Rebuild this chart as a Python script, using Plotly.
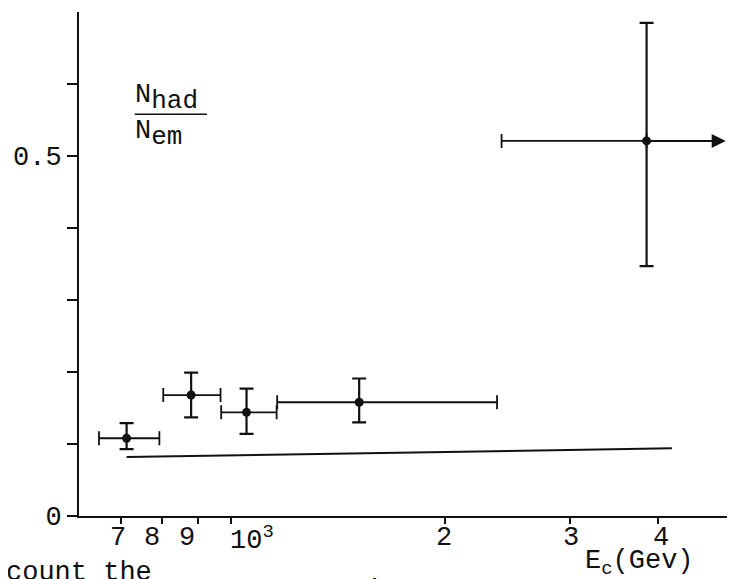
import math
import plotly.graph_objects as go

# ---- data (x in GeV, log axis) ----
energy = [713, 879, 1052, 1516, 3851]
energy_lo = [652, 803, 969, 1162, 2406]
energy_hi = [793, 967, 1160, 2371, 3851]   # last point: lower limit -> arrow
ratio = [0.108, 0.168, 0.144, 0.158, 0.521]
ratio_hi = [0.129, 0.199, 0.177, 0.191, 0.685]
ratio_lo = [0.093, 0.137, 0.114, 0.130, 0.347]
arrow_end = 4977

line_x = [713, 2243, 4180]
line_y = [0.082, 0.090, 0.094]

xtick_vals = [700, 800, 900, 1000, 2000, 3000, 4000]
xtick_text = ["7", "8", "9", "10<sup>3</sup>", "2", "3", "4"]
ytick_vals = [0, 0.1, 0.2, 0.3, 0.4, 0.5, 0.6]
ytick_text = ["0", "", "", "", "", "0.5", ""]

# hand-set label nudges (pixels), as in the typed original
xlabel_shift = [-3, -10, -11, 21, -1, 1, 3]

FONT = "Liberation Mono"
INK = "#111111"

err_plus_x = [h - c for h, c in zip(energy_hi, energy)]
err_minus_x = [c - l for c, l in zip(energy, energy_lo)]
err_plus_y = [h - c for h, c in zip(ratio_hi, ratio)]
err_minus_y = [c - l for c, l in zip(ratio, ratio_lo)]

fig = go.Figure()

fig.add_trace(go.Scatter(
    x=line_x, y=line_y, mode="lines",
    line=dict(color=INK, width=2), hoverinfo="skip", showlegend=False))

fig.add_trace(go.Scatter(
    x=energy, y=ratio, mode="markers",
    marker=dict(color=INK, size=9),
    error_x=dict(type="data", array=err_plus_x, arrayminus=err_minus_x,
                 color=INK, thickness=1.8, width=7),
    error_y=dict(type="data", array=err_plus_y, arrayminus=err_minus_y,
                 color=INK, thickness=2.2, width=7),
    showlegend=False))

annotations = [
    # arrow marking the lower limit of the last point
    dict(x=math.log10(arrow_end), y=ratio[4], ax=math.log10(energy[4]), ay=ratio[4],
         xref="x", yref="y", axref="x", ayref="y", text="", showarrow=True,
         arrowhead=2, arrowsize=1.4, arrowwidth=2, arrowcolor=INK, standoff=0),
    dict(text="N<sub><span style='font-size:26px'>had</span></sub>",
         xref="paper", yref="paper", x=0.083, y=0.83, xanchor="left", yanchor="middle",
         showarrow=False, font=dict(family=FONT, size=27, color=INK)),
    dict(text="N<sub><span style='font-size:26px'>em</span></sub>",
         xref="paper", yref="paper", x=0.083, y=0.757, xanchor="left", yanchor="middle",
         showarrow=False, font=dict(family=FONT, size=27, color=INK)),
    dict(text="E<sub>c</sub>(Gev)",
         xref="paper", yref="paper", x=0.855, y=-0.094, xanchor="center", yanchor="middle",
         showarrow=False, font=dict(family=FONT, size=27, color=INK)),
    dict(text="count the",
         xref="paper", yref="paper", x=-0.115, y=-0.079, xanchor="left", yanchor="top",
         showarrow=False, font=dict(family=FONT, size=27, color=INK)),
    dict(text="Fig. 1",
         xref="paper", yref="paper", x=0.405, y=-0.113, xanchor="left", yanchor="top",
         showarrow=False, font=dict(family=FONT, size=30, color=INK)),
]

# x tick labels, placed as in the original typescript
for v, t, s in zip(xtick_vals, xtick_text, xlabel_shift):
    annotations.append(dict(
        x=math.log10(v), y=-0.044, xref="x", yref="paper", text=t, showarrow=False,
        xanchor="center", yanchor="middle", xshift=s,
        font=dict(family=FONT, size=27, color=INK)))

shapes = [
    dict(type="line", xref="paper", yref="paper", x0=0.085, x1=0.195, y0=0.797, y1=0.797,
         line=dict(color=INK, width=1.5)),
]

# the page body adds an 8px offset, so the figure is 8px smaller
fig.update_layout(
    width=727, height=571,
    margin=dict(l=71, r=0, t=4, b=63, autoexpand=False),
    paper_bgcolor="white", plot_bgcolor="white",
    font=dict(family=FONT, size=27, color=INK),
    annotations=annotations, shapes=shapes,
    showlegend=False,
)

fig.update_xaxes(
    type="log", range=[math.log10(611), math.log10(5130)],
    tickvals=xtick_vals, showticklabels=False,
    ticks="outside", ticklen=6, tickwidth=1.5, tickcolor=INK,
    showline=True, linecolor=INK, linewidth=2,
    showgrid=False, zeroline=False, automargin=False,
)
fig.update_yaxes(
    range=[0, 0.7],
    tickvals=ytick_vals, ticktext=ytick_text,
    ticks="outside", ticklen=10, tickwidth=1.5, tickcolor=INK,
    showline=True, linecolor=INK, linewidth=2,
    showgrid=False, zeroline=False, automargin=False,
    tickfont=dict(family=FONT, size=27, color=INK),
)

fig.write_html("out.html")
